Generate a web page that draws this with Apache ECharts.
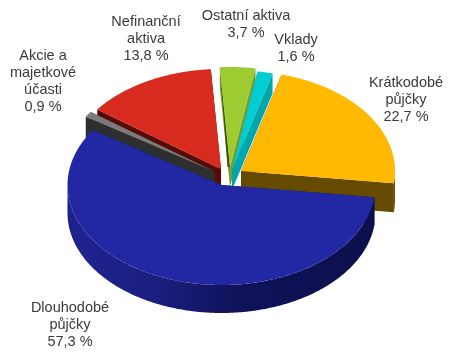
<!DOCTYPE html>
<html><head><meta charset="utf-8">
<style>html,body{margin:0;padding:0;background:#fff}#c{width:450px;height:352px}</style>
<script src="https://cdn.jsdelivr.net/npm/echarts@6/dist/echarts.min.js"></script>
</head><body><div id="c"></div>
<script>
const categories = ['Dlouhodobé\npůjčky','Akcie a\nmajetkové\núčasti','Nefinanční\naktiva','Ostatní aktiva','Vklady','Krátkodobé\npůjčky'];
const values = [57.3, 0.9, 13.8, 3.7, 1.6, 22.7];
const startAngle = 7;
const topColors = ['#2228A4','#7B7B7B','#D62B1E','#9DCB32','#00CDD2','#FFB900'];
const wallColors = ['#12145E','#2D2E2E','#5A0A04','#7A9A2A','#00A6AB','#654A00'];
const sliceCenters = [[221.5,185],[214.5,171.5],[221,169],[230,167],[232,170],[241,171]];
const sliceDepths = [28,27,27,20,20,29];
const labelCenters = [[70,325],[43,81.5],[146,39],[246,24.5],[296,48.5],[406,100]];
const RX = 154, RY = 100;

const total = values.reduce((a,b)=>a+b,0);
let acc = startAngle;
const spans = values.map(v=>{const s=acc; acc+=v/total*360; return [s,acc];});
const rad = d=>d*Math.PI/180;
const order = spans.map((s,i)=>[Math.sin(rad((s[0]+s[1])/2)),i]).sort((a,b)=>a[0]-b[0]).map(a=>a[1]);

function rim(c,t,d){return [c[0]+RX*Math.cos(rad(t)), c[1]+RY*Math.sin(rad(t))+(d||0)];}
function arc(c,a,b,d){const p=[];const n=Math.max(2,Math.ceil((b-a)*2));for(let k=0;k<=n;k++)p.push(rim(c,a+(b-a)*k/n,d));return p;}

function renderItem(params){
  const i=params.dataIndex, c=sliceCenters[i], d=sliceDepths[i], [a,b]=spans[i];
  const base=(order.indexOf(i)+1)*10, ch=[];
  const poly=(points,fill,z)=>ch.push({type:'polygon',shape:{points},style:{fill,stroke:null},z2:base+z,silent:true});
  const apex=c, apexLow=[c[0],c[1]+d];
  [a,b].forEach(t=>{poly([apex,rim(c,t),rim(c,t,d),apexLow],wallColors[i],0);});
  if(i===3){poly([rim(c,a),apex,[apex[0]-2.5,apex[1]]],'#3F5010',2);}
  // outer wall on the visible front half
  const ranges=[[a,Math.min(b,180)],[Math.max(a,360),b]];
  ranges.forEach(r=>{ if(r[1]>r[0]){
    const top=arc(c,r[0],r[1],0), low=arc(c,r[0],r[1],d).reverse();
    const fill = i===0 ? {type:'linear',x:0,y:0,x2:1,y2:0,colorStops:[
      {offset:0,color:'#1B2186'},{offset:.03,color:'#1E2390'},{offset:.3,color:'#1A1E7C'},{offset:.55,color:'#10125A'},{offset:1,color:'#0D0F4C'}]} : wallColors[i];
    poly(top.concat(low),fill,1);
  }});
  poly([apex].concat(arc(c,a,b,0)),topColors[i],3);
  const l=labelCenters[i];
  ch.push({type:'text',z2:1000,silent:true,style:{
    text:categories[i]+'\n'+String(values[i]).replace('.',',')+' %',
    x:l[0],y:l[1],align:'center',verticalAlign:'middle',
    font:'14.5px "Liberation Sans", Arial, sans-serif',lineHeight:17,fill:'#3A3A3A'}});
  return {type:'group',children:ch};
}
const chart=echarts.init(document.getElementById('c'),null,{renderer:'canvas'});
chart.setOption({animation:false,backgroundColor:'#fff',
  series:[{type:'custom',coordinateSystem:'none',renderItem,silent:true,
    data:categories.map((n,i)=>({name:n,value:[values[i],i]}))}]});
</script></body></html>
